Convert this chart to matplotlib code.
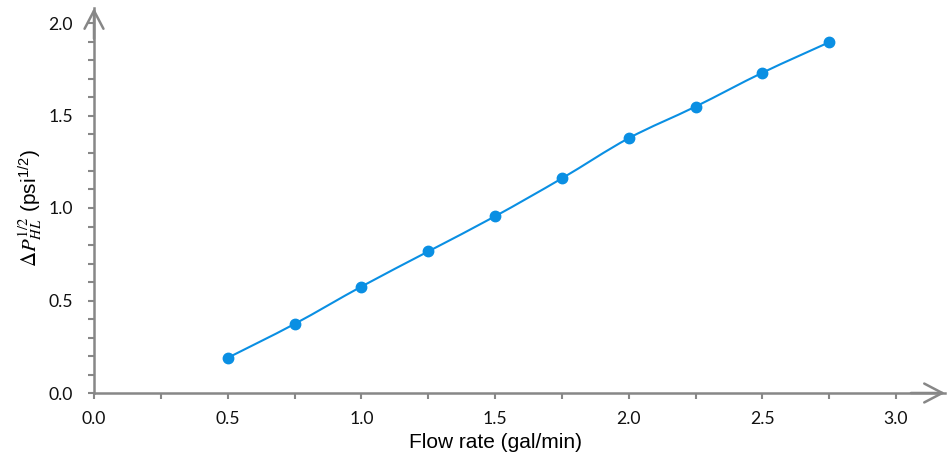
import matplotlib
matplotlib.use("Agg")
import matplotlib.pyplot as plt
from matplotlib.path import Path
from matplotlib.patches import PathPatch
from matplotlib.ticker import MultipleLocator
import numpy as np

flow_rate = [0.5, 0.75, 1.0, 1.25, 1.5, 1.75, 2.0, 2.25, 2.5, 2.75]
dp_sqrt = [0.19, 0.373, 0.575, 0.765, 0.955, 1.16, 1.377, 1.548, 1.731, 1.896]
x_ticks = [0.0, 0.5, 1.0, 1.5, 2.0, 2.5, 3.0]
y_ticks = [0.0, 0.5, 1.0, 1.5, 2.0]

BLUE = "#0a8fe3"
AXC = "#878787"

plt.rcParams["mathtext.fontset"] = "custom"
plt.rcParams["mathtext.rm"] = "STIXGeneral"
plt.rcParams["mathtext.it"] = "STIXGeneral:italic"
plt.rcParams["mathtext.sf"] = "Liberation Sans"

fig = plt.figure(figsize=(9.5, 4.66), dpi=100)
W, H = 950, 466
x0px, x3px = 94, 896
y0px, y2px = 393, 23
right_px, top_px = 945, 8
ax = fig.add_axes([x0px / W, 1 - y0px / H, (right_px - x0px) / W, (y0px - top_px) / H])
xmax = (right_px - x0px) / (x3px - x0px) * 3.0
ymax = (y0px - top_px) / (y0px - y2px) * 2.0
ax.set_xlim(0, xmax)
ax.set_ylim(0, ymax)

# smooth curve through the data points (cubic Bezier segments)
pts = np.column_stack([flow_rate, dp_sqrt])
n = len(pts)
verts = [pts[0]]
codes = [Path.MOVETO]
for i in range(n - 1):
    p0 = pts[i - 1] if i > 0 else pts[i]
    p1 = pts[i]
    p2 = pts[i + 1]
    p3 = pts[i + 2] if i + 2 < n else pts[i + 1]
    c1 = p1 + (p2 - p0) / 6
    c2 = p2 - (p3 - p1) / 6
    verts += [c1, c2, p2]
    codes += [Path.CURVE4] * 3
ax.add_patch(PathPatch(Path(verts, codes), fill=False, edgecolor=BLUE, lw=1.5, zorder=2))
ax.plot(flow_rate, dp_sqrt, "o", color=BLUE, ms=7.5, zorder=3)

for s in ["top", "right"]:
    ax.spines[s].set_visible(False)
for s in ["left", "bottom"]:
    ax.spines[s].set_color(AXC)
    ax.spines[s].set_linewidth(1.8)

ax.set_xticks(x_ticks)
ax.set_yticks(y_ticks)
ax.set_xticklabels([f"{v:.1f}" for v in x_ticks])
ax.set_yticklabels([f"{v:.1f}" for v in y_ticks])
ax.yaxis.set_minor_locator(MultipleLocator(0.1))
ax.set_xticks([t for t in np.arange(0.25, 3.01, 0.5)], minor=True)
ax.tick_params(which="both", color=AXC, width=1.5, length=4, direction="out")
ax.tick_params(axis="x", labelsize=12.7, labelcolor="#111111", pad=9)
ax.tick_params(axis="y", labelsize=12.7, labelcolor="#111111", pad=11)
for lab in ax.get_xticklabels() + ax.get_yticklabels():
    lab.set_family(["Lato", "DejaVu Sans"])

# arrowheads
astyle = "->,head_length=1.3,head_width=0.68"
ax.annotate("", xy=(1.0, 0), xytext=(0.96, 0), xycoords="axes fraction",
            arrowprops=dict(arrowstyle=astyle, color=AXC, lw=1.8, shrinkA=0, shrinkB=0),
            annotation_clip=False)
ax.annotate("", xy=(0, 1.0), xytext=(0, 0.92), xycoords="axes fraction",
            arrowprops=dict(arrowstyle=astyle, color=AXC, lw=1.8, shrinkA=0, shrinkB=0),
            annotation_clip=False)

ax.set_xlabel("Flow rate (gal/min)", fontsize=15, family="Liberation Sans")
ax.xaxis.set_label_coords((x3px - x0px) / 2 / (right_px - x0px), -0.105)
ax.set_ylabel(r"$\Delta \mathit{P}_{\mathit{HL}}^{\mathit{1/2}}$ (psi$^{\mathsf{1/2}}$)",
              fontsize=15, family="Liberation Sans")
ax.yaxis.set_label_coords(-0.058, ((y0px - y2px) / 2) / (y0px - top_px))

fig.savefig("out.png", dpi=100)
